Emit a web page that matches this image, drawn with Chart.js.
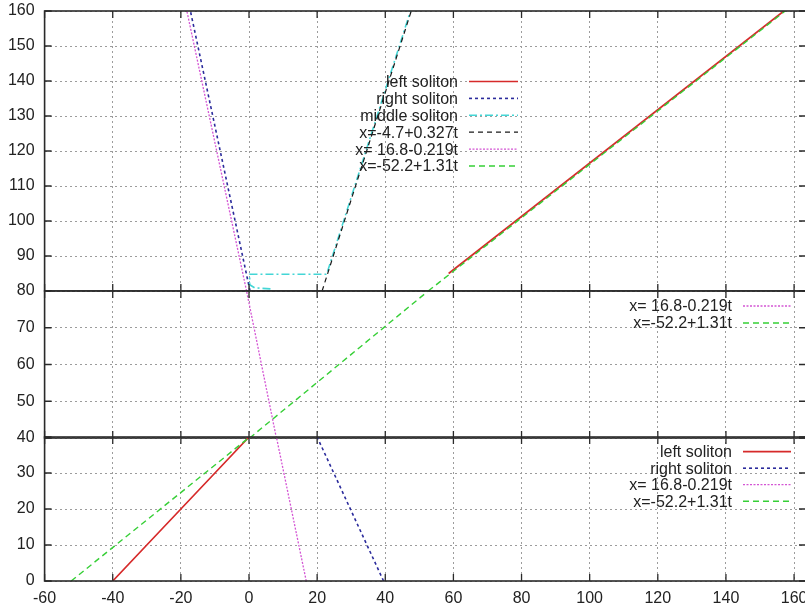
<!DOCTYPE html>
<html>
<head>
<meta charset="utf-8">
<script src="https://cdn.jsdelivr.net/npm/chart.js@4/dist/chart.umd.min.js"></script>
<style>
  html, body { margin: 0; padding: 0; background: #fff; overflow: hidden; width: 805px; height: 611px; }
  .panel { position: absolute; left: 0; top: 0; }
</style>
</head>
<body>
<div class="panel"><canvas id="upper" width="820" height="611"></canvas></div>
<div class="panel"><canvas id="middle" width="820" height="611"></canvas></div>
<div class="panel"><canvas id="lower" width="820" height="611"></canvas></div>
<script>
// ---- tick labels ----
const xTicks = [-60, -40, -20, 0, 20, 40, 60, 80, 100, 120, 140, 160];
const yTicksUpper = [80, 90, 100, 110, 120, 130, 140, 150, 160];
const yTicksMiddle = [40, 50, 60, 70, 80];
const yTicksLower = [0, 10, 20, 30, 40];

// ---- soliton trajectories: position x against time t ----
const leftSolitonEarlyX = [-40, -30, -20, -10, 0];
const leftSolitonEarlyT = [0, 10, 20, 30, 40];
const rightSolitonEarlyX = [39.5, 20];
const rightSolitonEarlyT = [0, 40];

const leftSolitonLateX = [58.6, 157.0];
const leftSolitonLateT = [85, 160];
const rightSolitonLateX = [0.3, -17.2];
const rightSolitonLateT = [80, 160];
const middleSolitonX = [6.3, 1.7, 0.2, 0.2, 22.8, 47.4];
const middleSolitonT = [80.6, 80.9, 81.8, 84.8, 84.8, 160];

// ---- straight-line fits ----
const fitMiddleX = [21.46, 47.62];
const fitMiddleT = [80, 160];
const fitRightX = [16.8, 8.04, -0.72, -18.24];
const fitRightT = [0, 40, 80, 160];
const fitLeftX = [-52.2, 0.2, 52.6, 157.4];
const fitLeftT = [0, 40, 80, 160];

// ---- labels ----
const labelLeft = 'left soliton';
const labelRight = 'right soliton';
const labelMiddle = 'middle soliton';
const labelFitMiddle = 'x=-4.7+0.327t';
const labelFitRight = 'x= 16.8-0.219t';
const labelFitLeft = 'x=-52.2+1.31t';

// points of a track restricted to a time window
function track(xs, ts, lo, hi) {
  const out = [];
  for (let i = 0; i < xs.length; i++) {
    if (ts[i] >= lo - 1e-9 && ts[i] <= hi + 1e-9) out.push({ x: xs[i], y: ts[i] });
  }
  return out;
}

const FONT = { family: "'Liberation Sans', Arial, Helvetica, sans-serif", size: 16 };
const INK = '#222';

const STYLE = {
  left:     { color: '#d62a2a', width: 1.7, dash: [] },
  right:    { color: '#2b2b9c', width: 1.6, dash: [3, 3] },
  middle:   { color: '#44d6d6', width: 1.6, dash: [8, 3, 2, 3] },
  fitMid:   { color: '#1a1a1a', width: 1.2, dash: [5, 4] },
  fitRight: { color: '#d455d4', width: 1.3, dash: [2, 1.5] },
  fitLeft:  { color: '#36cf36', width: 1.4, dash: [6, 4] }
};

// border box with inward tick marks on all four sides
const framePlugin = {
  id: 'gnuFrame',
  afterDraw(chart) {
    const { ctx, chartArea: a, scales } = chart;
    const len = 7;
    ctx.save();
    ctx.strokeStyle = '#2a2a2a';
    ctx.lineWidth = 1.6;
    ctx.setLineDash([]);
    ctx.strokeRect(a.left, a.top, a.right - a.left, a.bottom - a.top);
    ctx.lineWidth = 1.3;
    ctx.beginPath();
    scales.x.ticks.forEach(t => {
      const px = scales.x.getPixelForValue(t.value);
      ctx.moveTo(px, a.top); ctx.lineTo(px, a.top + len);
      ctx.moveTo(px, a.bottom); ctx.lineTo(px, a.bottom - len);
    });
    scales.y.ticks.forEach(t => {
      const py = scales.y.getPixelForValue(t.value);
      ctx.moveTo(a.left, py); ctx.lineTo(a.left + len, py);
      ctx.moveTo(a.right, py); ctx.lineTo(a.right - len, py);
    });
    ctx.stroke();
    ctx.restore();
  }
};

// key: right-aligned text followed by a line sample
const keyPlugin = {
  id: 'gnuKey',
  afterDraw(chart, args, opts) {
    const { ctx } = chart;
    ctx.save();
    ctx.font = FONT.size + 'px ' + FONT.family;
    ctx.textAlign = 'right';
    ctx.textBaseline = 'middle';
    chart.data.datasets.forEach((ds, i) => {
      const y = opts.y + i * opts.rowH;
      ctx.fillStyle = INK;
      ctx.fillText(ds.label, opts.x, y + 1);
      ctx.strokeStyle = ds.borderColor;
      ctx.lineWidth = ds.borderWidth;
      ctx.setLineDash(ds.borderDash || []);
      ctx.beginPath();
      ctx.moveTo(opts.x + opts.gap, y);
      ctx.lineTo(opts.x + opts.gap + opts.len, y);
      ctx.stroke();
    });
    ctx.restore();
  }
};

function panel(id, cfg) {
  const n = cfg.series.length;
  return new Chart(document.getElementById(id), {
    type: 'scatter',
    data: {
      datasets: cfg.series.map((s, i) => ({
        label: s.label,
        data: s.data,
        showLine: true,
        borderColor: s.style.color,
        backgroundColor: s.style.color,
        borderWidth: s.style.width,
        borderDash: s.style.dash,
        pointRadius: 0,
        pointHoverRadius: 0,
        tension: 0,
        fill: false,
        order: n - i
      }))
    },
    options: {
      responsive: false,
      animation: false,
      events: [],
      layout: { padding: { top: cfg.top, bottom: cfg.bottom, left: 0, right: 14 } },
      plugins: {
        legend: { display: false },
        tooltip: { enabled: false },
        gnuKey: cfg.key
      },
      scales: {
        x: {
          type: 'linear',
          min: -60,
          max: 163.5,
          afterBuildTicks: s => { s.ticks = xTicks.map(v => ({ value: v })); },
          afterFit: s => { s.height = cfg.showX ? 30 : 0; s.paddingLeft = 0; s.paddingRight = 0; },
          grid: { color: '#9c9c9c', lineWidth: 1, drawTicks: false },
          border: { display: false, dash: [2, 3] },
          ticks: { display: cfg.showX, padding: 8, font: FONT, color: INK, maxRotation: 0, autoSkip: false }
        },
        y: {
          type: 'linear',
          min: cfg.yTicks[0],
          max: cfg.yTicks[cfg.yTicks.length - 1],
          afterBuildTicks: s => { s.ticks = cfg.yTicks.map(v => ({ value: v })); },
          afterFit: s => { s.width = 44.6; s.paddingTop = 0; s.paddingBottom = 0; },
          grid: { color: '#9c9c9c', lineWidth: 1, drawTicks: false },
          border: { display: false, dash: [2, 3] },
          ticks: {
            padding: 10, font: FONT, color: INK, autoSkip: false,
            // the panel above already labels the shared top value
            callback: v => (cfg.skipTopLabel && v === cfg.yTicks[cfg.yTicks.length - 1]) ? '' : String(v)
          }
        }
      }
    },
    plugins: [framePlugin, keyPlugin]
  });
}

// late times: all three solitons with their fits
panel('upper', {
  top: 11, bottom: 320, showX: false, yTicks: yTicksUpper,
  key: { x: 458, y: 81.5, rowH: 16.9, gap: 11, len: 49 },
  series: [
    { label: labelLeft, style: STYLE.left, data: track(leftSolitonLateX, leftSolitonLateT, 80, 160) },
    { label: labelRight, style: STYLE.right, data: track(rightSolitonLateX, rightSolitonLateT, 80, 160) },
    { label: labelMiddle, style: STYLE.middle, data: track(middleSolitonX, middleSolitonT, 80, 160) },
    { label: labelFitMiddle, style: STYLE.fitMid, data: track(fitMiddleX, fitMiddleT, 80, 160) },
    { label: labelFitRight, style: STYLE.fitRight, data: track(fitRightX, fitRightT, 80, 160) },
    { label: labelFitLeft, style: STYLE.fitLeft, data: track(fitLeftX, fitLeftT, 80, 160) }
  ]
});

// interaction window: fits only
panel('middle', {
  top: 291, bottom: 173, showX: false, yTicks: yTicksMiddle, skipTopLabel: true,
  key: { x: 732, y: 306, rowH: 17, gap: 11, len: 48 },
  series: [
    { label: labelFitRight, style: STYLE.fitRight, data: track(fitRightX, fitRightT, 40, 80) },
    { label: labelFitLeft, style: STYLE.fitLeft, data: track(fitLeftX, fitLeftT, 40, 80) }
  ]
});

// early times: two incoming solitons
panel('lower', {
  top: 437, bottom: 0, showX: true, yTicks: yTicksLower, skipTopLabel: true,
  key: { x: 732, y: 451.7, rowH: 16.5, gap: 11, len: 48 },
  series: [
    { label: labelLeft, style: STYLE.left, data: track(leftSolitonEarlyX, leftSolitonEarlyT, 0, 40) },
    { label: labelRight, style: STYLE.right, data: track(rightSolitonEarlyX, rightSolitonEarlyT, 0, 40) },
    { label: labelFitRight, style: STYLE.fitRight, data: track(fitRightX, fitRightT, 0, 40) },
    { label: labelFitLeft, style: STYLE.fitLeft, data: track(fitLeftX, fitLeftT, 0, 40) }
  ]
});
</script>
</body>
</html>
